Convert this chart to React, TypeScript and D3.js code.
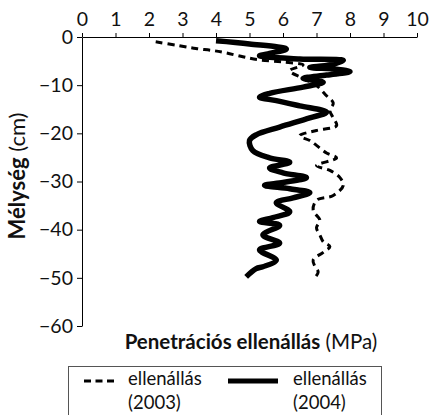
import React, { useEffect, useRef } from 'react';
import * as d3 from 'd3';

// penetration resistance (MPa) against depth (cm)
const depth2003 = [-1.0, -1.8, -2.4, -2.8, -3.3, -4.1, -4.75, -5.2, -5.8, -7.0, -8.6, -10.1, -12.2, -13.7, -15.3, -16.8, -18.4, -19.4, -20.5, -21.5, -22.5, -24.1, -25.1, -26.7, -27.7, -29.2, -30.8, -32.9, -33.9, -36.0, -38.0, -39.6, -41.1, -42.5, -43.5, -44.7, -46.3, -47.6, -48.8, -50.0];
const res2003 = [2.2, 2.9, 3.4, 3.9, 4.3, 4.8, 5.3, 6.0, 6.6, 6.2, 6.6, 7.0, 7.3, 7.5, 7.4, 7.5, 7.6, 7.0, 6.5, 6.8, 7.0, 7.3, 7.6, 7.0, 7.4, 7.7, 7.8, 7.5, 7.0, 6.9, 7.1, 7.0, 7.1, 7.2, 7.4, 7.2, 6.9, 6.95, 7.05, 6.95];

const depth2004 = [-0.8, -1.45, -2.5, -3.4, -3.9, -4.55, -4.86, -5.8, -6.3, -6.7, -7.2, -7.9, -8.6, -9.4, -10.4, -11.7, -12.5, -13.2, -14.3, -15.6, -16.8, -18.7, -20.3, -21.5, -23.6, -25.1, -26.0, -27.2, -28.2, -29.2, -30.2, -30.8, -31.5, -32.3, -33.4, -34.4, -36.3, -37.5, -38.3, -39.1, -41.1, -42.8, -44.2, -46.3, -47.7, -48.1, -49.8];
const res2004 = [4.0, 5.0, 6.1, 5.6, 5.3, 6.5, 7.8, 7.4, 6.8, 7.6, 8.0, 7.3, 6.6, 7.2, 6.6, 5.6, 5.3, 5.8, 6.5, 7.3, 6.8, 5.9, 5.2, 5.0, 5.1, 5.6, 6.2, 5.6, 6.0, 6.7, 6.0, 5.45, 6.2, 6.8, 6.3, 5.8, 6.2, 5.7, 5.3, 5.9, 5.4, 5.9, 5.3, 5.8, 5.4, 5.2, 4.9];

const xTicks = [0, 1, 2, 3, 4, 5, 6, 7, 8, 9, 10];
const yTicks = [0, -10, -20, -30, -40, -50, -60];

const FONT = 'Lato, "Open Sans", sans-serif';

const App: React.FC = () => {
  const svgRef = useRef<SVGSVGElement>(null);

  useEffect(() => {
    const svg = d3.select(svgRef.current);
    svg.selectAll('*').remove();

    const x = d3.scaleLinear().domain([0, 10]).range([82, 417]);
    const y = d3.scaleLinear().domain([-60, 0]).range([326, 37]);

    // axes
    const xAxis = d3.axisTop(x).tickValues(xTicks).tickSize(4).tickSizeOuter(0).tickPadding(7).tickFormat(d3.format('d'));
    const yAxis = d3.axisLeft(y).tickValues(yTicks).tickSize(5).tickSizeOuter(0).tickPadding(4).tickFormat(d3.format('d'));

    const gx = svg.append('g').attr('transform', `translate(0,${y(0)})`).call(xAxis);
    const gy = svg.append('g').attr('transform', `translate(${x(0)},0)`).call(yAxis);
    [gx, gy].forEach(g => {
      g.selectAll('path, line').attr('stroke', '#000').attr('stroke-width', 1);
      g.selectAll('text').attr('fill', '#111').style('font-family', FONT).style('font-size', '19.5px');
    });

    // series
    const pts = (d: number[], v: number[]) => d.map((dd, i) => [v[i], dd] as [number, number]);
    const line = d3.line<[number, number]>()
      .x(p => x(p[0]))
      .y(p => y(p[1]))
      .curve(d3.curveCatmullRom.alpha(0.5));

    svg.append('path')
      .datum(pts(depth2003, res2003))
      .attr('fill', 'none')
      .attr('stroke', '#000')
      .attr('stroke-width', 3)
      .attr('stroke-dasharray', '7,5')
      .attr('d', line);

    svg.append('path')
      .datum(pts(depth2004, res2004))
      .attr('fill', 'none')
      .attr('stroke', '#000')
      .attr('stroke-width', 5.5)
      .attr('stroke-linejoin', 'round')
      .attr('d', line);

    // axis titles
    const yt = svg.append('text')
      .attr('transform', 'translate(25,176) rotate(-90)')
      .attr('text-anchor', 'middle')
      .style('font-family', FONT)
      .style('font-size', '22px')
      .attr('fill', '#111');
    yt.append('tspan').attr('font-weight', 'bold').text('Mélység');
    yt.append('tspan').text(' (cm)');

    const xt = svg.append('text')
      .attr('x', 251)
      .attr('y', 349)
      .attr('text-anchor', 'middle')
      .style('font-family', FONT)
      .style('font-size', '20.5px')
      .attr('fill', '#111');
    xt.append('tspan').attr('font-weight', 'bold').text('Penetrációs ellenállás');
    xt.append('tspan').text(' (MPa)');

    // legend
    const lg = svg.append('g');
    lg.append('rect')
      .attr('x', 68.5).attr('y', 366.5).attr('width', 313).attr('height', 60)
      .attr('fill', '#fff').attr('stroke', '#555').attr('stroke-width', 1);

    const entries = [
      { x0: 84, x1: 114, w: 3, dash: '7,4.5', tx: 128, label: '(2003)' },
      { x0: 228, x1: 278, w: 5, dash: null, tx: 293, label: '(2004)' },
    ];
    entries.forEach(e => {
      lg.append('line')
        .attr('x1', e.x0).attr('x2', e.x1).attr('y1', 381).attr('y2', 381)
        .attr('stroke', '#000').attr('stroke-width', e.w)
        .attr('stroke-dasharray', e.dash);
      const t = lg.append('text')
        .style('font-family', FONT).style('font-size', '18.5px').attr('fill', '#111');
      t.append('tspan').attr('x', e.tx).attr('y', 385).text('ellenállás');
      t.append('tspan').attr('x', e.tx).attr('y', 409).text(e.label);
    });
  }, []);

  return (
    <svg ref={svgRef} width={430} height={415} style={{ position: 'absolute', left: 0, top: 0, background: '#fff' }} />
  );
};

export default App;
